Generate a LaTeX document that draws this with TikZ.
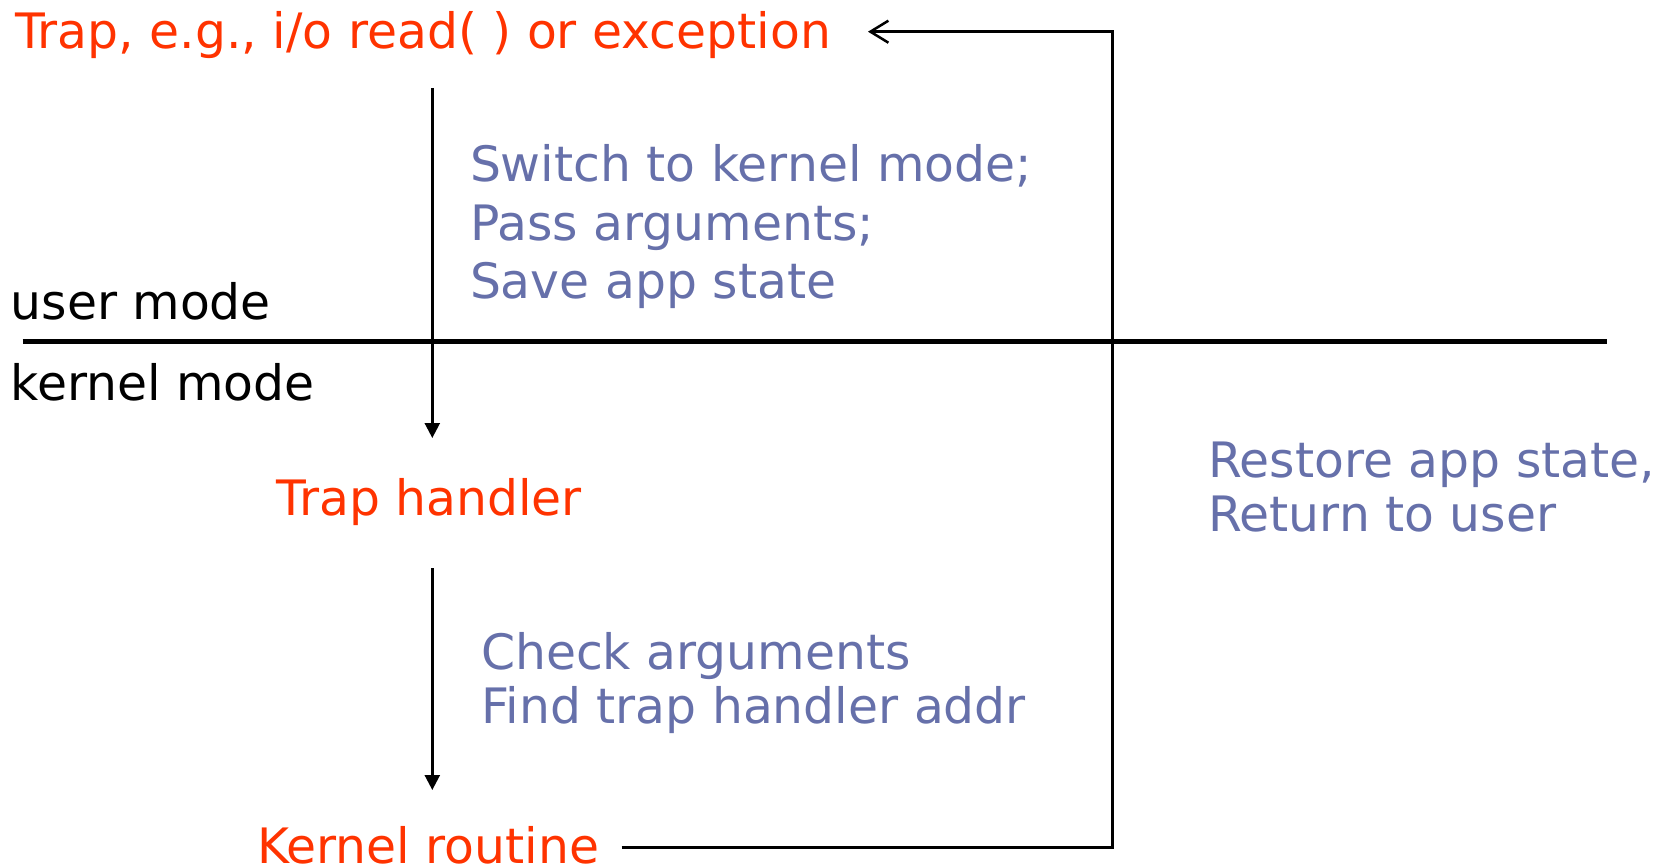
\documentclass[tikz,border=0pt]{standalone}
\usepackage{fontspec}
\setmainfont{DejaVu Sans}
\usetikzlibrary{arrows.meta}
\definecolor{trapred}{RGB}{255,51,0}
\definecolor{noteblue}{RGB}{102,112,170}
\begin{document}
\begin{tikzpicture}[x=1pt,y=-1pt,
  every node/.style={inner sep=0pt,outer sep=0pt,anchor=base west},
  redtxt/.style={text=trapred,font=\fontsize{48.8}{58.4}\selectfont},
  bluetxt/.style={text=noteblue,align=left},
  blacktxt/.style={text=black,font=\fontsize{48.8}{58.4}\selectfont},
  downarrow/.style={line width=2.5pt,-{Triangle[length=15pt,width=15pt]}},
  retline/.style={line width=2.5pt,-{Straight Barb[length=18pt,width=22pt,line width=2.5pt]}},
  divider/.style={line width=5pt}]
\useasboundingbox (0,0) rectangle (1665,866);
% texts (multi-line nodes are placed by the baseline of their last line)
\node[redtxt] (trap) at (15,48.3) {Trap, e.g., i/o read( ) or exception};
\node[bluetxt,font=\fontsize{48.8}{58.4}\selectfont] (switch) at (470,298.5) {Switch to kernel mode;\\Pass arguments;\\Save app state};
\node[blacktxt] (user) at (10.7,320) {user mode};
\node[blacktxt] (kern) at (10.7,400) {kernel mode};
\node[redtxt] (handler) at (276.5,515) {Trap handler};
\node[bluetxt,font=\fontsize{48.8}{54.6}\selectfont] (check) at (481,723.6) {Check arguments\\Find trap handler addr};
\node[redtxt] (routine) at (257,863) {Kernel routine};
\node[bluetxt,font=\fontsize{48.8}{54}\selectfont] (restore) at (1208,531.7) {Restore app state,\\Return to user};
% coordinates
\coordinate (hlA) at (22.7,342);
\coordinate (hlB) at (1607,342);
\coordinate (a1s) at (432.3,88);
\coordinate (a1e) at (432.3,438);
\coordinate (a2s) at (432.3,568);
\coordinate (a2e) at (432.3,790);
\coordinate (rs) at (621.5,847.7);
\coordinate (rc1) at (1112.5,847.7);
\coordinate (rc2) at (1112.5,31.7);
\coordinate (re) at (868,31.7);
% connectors
\draw[divider] (hlA) -- (hlB);
\draw[downarrow] (a1s) -- (a1e);
\draw[downarrow] (a2s) -- (a2e);
\draw[retline] (rs) -- (rc1) -- (rc2) -- (re);
\end{tikzpicture}
\end{document}
